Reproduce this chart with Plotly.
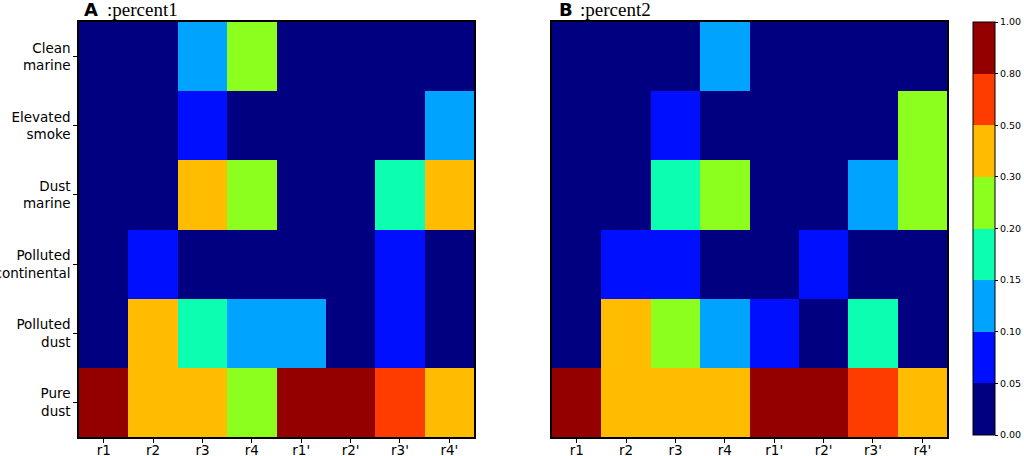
import numpy as np
import plotly.graph_objects as go

W, H = 1024, 456

# aerosol types (rows, top to bottom) and retrieval runs (columns)
aerosol_types = ["Clean<br>marine", "Elevated<br>smoke", "Dust<br>marine",
                 "Polluted<br>continental", "Polluted<br>dust", "Pure<br>dust"]
runs = ["r1", "r2", "r3", "r4", "r1'", "r2'", "r3'", "r4'"]

# fractions (estimated inside each colour class)
percent1 = [
    [0.00, 0.00, 0.12, 0.29, 0.00, 0.00, 0.00, 0.00],
    [0.00, 0.00, 0.08, 0.00, 0.00, 0.00, 0.00, 0.12],
    [0.00, 0.00, 0.32, 0.29, 0.00, 0.00, 0.17, 0.42],
    [0.00, 0.07, 0.00, 0.00, 0.00, 0.00, 0.07, 0.00],
    [0.00, 0.45, 0.17, 0.14, 0.12, 0.00, 0.08, 0.00],
    [1.00, 0.48, 0.31, 0.28, 0.88, 1.00, 0.68, 0.46],
]
percent2 = [
    [0.00, 0.00, 0.00, 0.13, 0.00, 0.00, 0.00, 0.00],
    [0.00, 0.00, 0.07, 0.00, 0.00, 0.00, 0.00, 0.28],
    [0.00, 0.00, 0.18, 0.27, 0.00, 0.00, 0.12, 0.27],
    [0.00, 0.07, 0.08, 0.00, 0.00, 0.06, 0.00, 0.00],
    [0.00, 0.45, 0.25, 0.12, 0.09, 0.00, 0.16, 0.00],
    [1.00, 0.48, 0.42, 0.48, 0.91, 0.94, 0.72, 0.45],
]

levels = [0.00, 0.05, 0.10, 0.15, 0.20, 0.30, 0.50, 0.80, 1.00]
level_labels = ["%.2f" % v for v in levels]
level_colors = ["#000080", "#0010ff", "#00a4ff", "#0cffb0",
                "#8cff1e", "#ffbc00", "#ff3c00", "#940000"]

n = len(level_colors)
colorscale = []
for i, c in enumerate(level_colors):
    colorscale.append([i / n, c])
    colorscale.append([(i + 1) / n, c])


def to_level(vals):
    # BoundaryNorm-like: index of the class each value falls in
    idx = np.digitize(np.array(vals), levels[1:-1])
    return idx + 0.5


def px_x(p):
    return p / W


def px_y(p):
    return 1 - p / H


fig = go.Figure()
for k, (vals, name) in enumerate([(percent1, "percent1"), (percent2, "percent2")]):
    fig.add_trace(go.Heatmap(
        z=to_level(vals), customdata=np.array(vals),
        x=list(range(len(runs))), y=list(range(len(aerosol_types))),
        coloraxis="coloraxis", xaxis="x" if k == 0 else "x2", yaxis="y" if k == 0 else "y2",
        hovertemplate=name + ": %{customdata:.2f}<extra></extra>",
    ))

axis_common = dict(showline=True, mirror=True, linecolor="black", linewidth=1.5,
                   ticks="outside", ticklen=4, tickcolor="black", showgrid=False,
                   zeroline=False, automargin=False,
                   tickfont=dict(family="DejaVu Sans", size=13.5, color="black"))

xdom1 = [px_x(79), px_x(474)]
xdom2 = [px_x(552), px_x(947)]
ydom = [px_y(437), px_y(22)]

fig.update_layout(
    width=W, height=H,
    margin=dict(l=0, r=0, t=0, b=0),
    paper_bgcolor="white", plot_bgcolor="white",
    xaxis=dict(axis_common, domain=xdom1, range=[-0.5, 7.5], ticklabelstandoff=-4,
               tickvals=list(range(len(runs))), ticktext=runs, anchor="y"),
    yaxis=dict(axis_common, domain=ydom, range=[5.5, -0.5],
               tickvals=list(range(len(aerosol_types))), ticktext=aerosol_types, anchor="x"),
    xaxis2=dict(axis_common, domain=xdom2, range=[-0.5, 7.5], ticklabelstandoff=-4,
                tickvals=list(range(len(runs))), ticktext=runs, anchor="y2"),
    yaxis2=dict(axis_common, domain=ydom, range=[5.5, -0.5],
                showticklabels=False, ticks="", anchor="x2"),
    coloraxis=dict(
        colorscale=colorscale, cmin=0, cmax=n,
        colorbar=dict(
            tickvals=list(range(len(levels))), ticktext=level_labels,
            thickness=22, thicknessmode="pixels",
            len=(435 - 22) / H, lenmode="fraction",
            x=px_x(973), xanchor="left", y=px_y(435), yanchor="bottom",
            xpad=0, ypad=0, outlinewidth=1, outlinecolor="black",
            ticks="outside", ticklen=3, tickcolor="black",
            tickfont=dict(family="DejaVu Sans", size=9.5, color="black"),
        ),
    ),
    showlegend=False,
)

# panel titles: bold letter + serif name
for letter, label, xl, xt in [("A", ":percent1", 82, 105), ("B", ":percent2", 557, 578)]:
    fig.add_annotation(text="<b>%s</b>" % letter, xref="paper", yref="paper",
                       x=px_x(xl), y=px_y(22), xanchor="left", yanchor="bottom",
                       showarrow=False, font=dict(family="DejaVu Sans", size=18, color="black"))
    fig.add_annotation(text=label, xref="paper", yref="paper",
                       x=px_x(xt), y=px_y(22), xanchor="left", yanchor="bottom",
                       showarrow=False, font=dict(family="Liberation Serif", size=19, color="black"))

# the page body has a default 8px margin; drop it so the figure fills the window
fig.write_html("out.html", config={"displayModeBar": False},
               post_script="document.body.style.margin='0';")
